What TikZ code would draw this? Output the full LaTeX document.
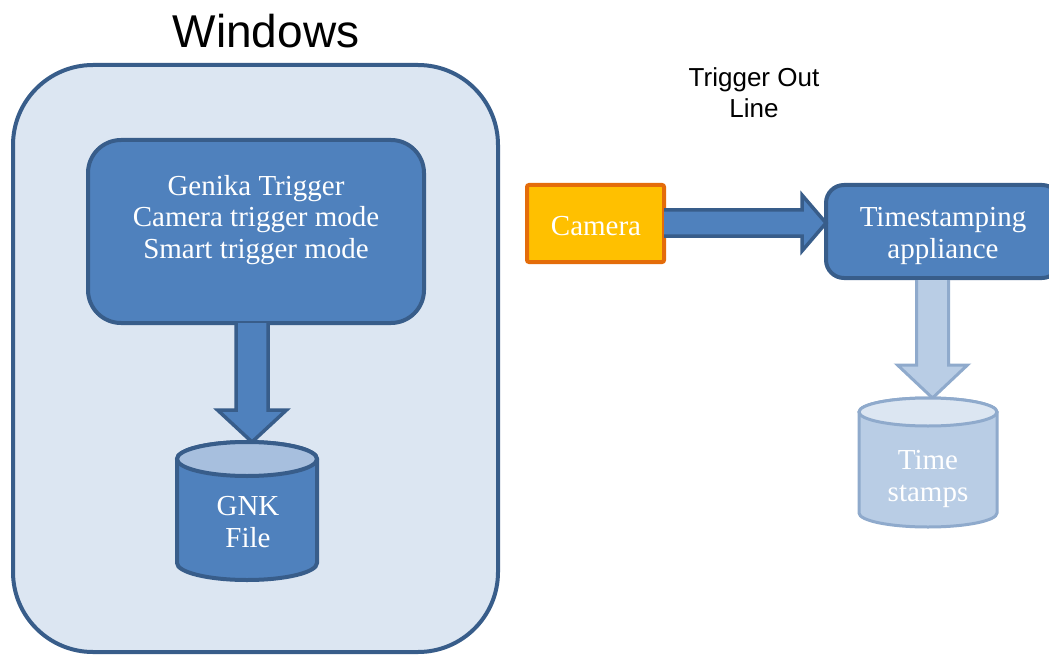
\documentclass[tikz,border=0pt]{standalone}
\usepackage{fontspec}
\setmainfont{Liberation Serif}
\newfontfamily\arialfont{Liberation Sans}
\usetikzlibrary{calc}
\definecolor{winfill}{HTML}{DCE6F2}
\definecolor{darkedge}{HTML}{385D8A}
\definecolor{boxfill}{HTML}{4F81BD}
\definecolor{camfill}{HTML}{FFC000}
\definecolor{camedge}{HTML}{E46C0A}
\definecolor{lightfill}{HTML}{B9CDE5}
\definecolor{lightedge}{HTML}{8FAACC}
\definecolor{gnkcap}{HTML}{A7BFDE}
\definecolor{tscap}{HTML}{DCE6F2}
\tikzset{
  serif text/.style={font=\fontsize{29}{31.5}\selectfont, text=white, align=center},
  winbox/.style={draw=darkedge, fill=winfill, line width=4pt, rounded corners=80pt, outer sep=0pt},
  bluebox/.style={draw=darkedge, fill=boxfill, line width=4pt, outer sep=0pt},
  cambox/.style={draw=camedge, fill=camfill, line width=4pt, rounded corners=2pt, outer sep=0pt},
  textonly/.style={serif text, inner sep=0pt},
  placeholder/.style={draw=none, outer sep=0pt, inner sep=0pt},
  fatdark/.style={draw=darkedge, fill=boxfill, line width=3.5pt, line join=miter},
  fatlight/.style={draw=lightedge, fill=lightfill, line width=3pt, line join=miter},
  darkcyl/.style={draw=darkedge, fill=boxfill, line width=4pt},
  darkcap/.style={draw=darkedge, fill=gnkcap, line width=4pt},
  lightcyl/.style={draw=lightedge, fill=lightfill, line width=3pt},
  lightcap/.style={draw=lightedge, fill=tscap, line width=3pt},
  sanslabel/.style={font=\arialfont\fontsize{26}{31}\selectfont, align=center, text=black}
}
\begin{document}
\begin{tikzpicture}[x=1pt,y=1pt]
\useasboundingbox (0,0) rectangle (1049,-655);
\clip (0,0) rectangle (1049,-655);
\fill[white] (0,0) rectangle (1049,-655);

% Windows container
\node[winbox, minimum width=485pt, minimum height=587pt] (win) at (255.5,-358.5) {};
\node[font=\arialfont\fontsize{46}{50}\selectfont] (title) at (266,-31) {Windows};

% Genika box
\node[bluebox, rounded corners=33pt, minimum width=336pt, minimum height=183pt] (genika) at (256,-231.5) {};
\node[textonly] (genikatext) at (256,-220) {Genika Trigger\\Camera trigger mode\\Smart trigger mode};

% GNK cylinder
\node[placeholder, minimum width=140pt, minimum height=138pt] (gnk) at (247,-511) {};
\coordinate (gnkin) at (252,-442);
\draw[fatdark] ($(genika.south -| gnkin)+(-16,0)$) -- ($(gnkin)+(-16,32)$) -- ($(gnkin)+(-34.5,32)$)
  -- (gnkin) -- ($(gnkin)+(34.5,32)$) -- ($(gnkin)+(16,32)$) -- ($(genika.south -| gnkin)+(16,0)$);
\draw[darkcyl] (177,-459) -- (177,-563) arc[start angle=180, end angle=360, x radius=70, y radius=17]
  -- (317,-459) arc[start angle=0, end angle=180, x radius=70, y radius=17] -- cycle;
\draw[darkcap] (247,-459) ellipse[x radius=70, y radius=17];
\node[textonly] (gnktext) at (248,-522) {GNK\\File};

% Camera
\node[cambox, minimum width=137pt, minimum height=77pt] (camera) at (595.5,-223.5) {};
\node[textonly] (cameratext) at (596,-226) {Camera};

% Timestamping appliance
\node[bluebox, rounded corners=18pt, minimum width=234pt, minimum height=93pt] (ts) at (943,-231.5) {};
\node[textonly] (tstext) at (943,-236) {Timestamping\\appliance};

% Trigger out label
\node[sanslabel] (trig) at (754,-93) {Trigger Out\\Line};

% Camera -> Timestamping arrow
\coordinate (tsin) at ($(ts.west)+(0,8.5)$);
\draw[fatdark] ($(camera.east |- tsin)+(0,13)$) -- ($(tsin)+(-24,13)$) -- ($(tsin)+(-24,28)$)
  -- (tsin) -- ($(tsin)+(-24,-28)$) -- ($(tsin)+(-24,-13)$) -- ($(camera.east |- tsin)+(0,-13)$);

% Time stamps cylinder
\node[placeholder, minimum width=138pt, minimum height=129pt] (tsdb) at (928,-462.5) {};
\coordinate (tsdbin) at (932.5,-398);
\draw[fatlight] ($(ts.south -| tsdbin)+(-16,-2)$) -- ($(tsdbin)+(-16,33)$) -- ($(tsdbin)+(-35,33)$)
  -- (tsdbin) -- ($(tsdbin)+(35,33)$) -- ($(tsdbin)+(16,33)$) -- ($(ts.south -| tsdbin)+(16,-2)$);
\draw[lightcyl] (859,-412) -- (859,-513) arc[start angle=180, end angle=360, x radius=69, y radius=14]
  -- (997,-412) arc[start angle=0, end angle=180, x radius=69, y radius=14] -- cycle;
\draw[lightcap] (928,-412) ellipse[x radius=69, y radius=14];
\node[textonly] (tsdbtext) at (928,-479) {Time\\stamps};
\end{tikzpicture}
\end{document}
